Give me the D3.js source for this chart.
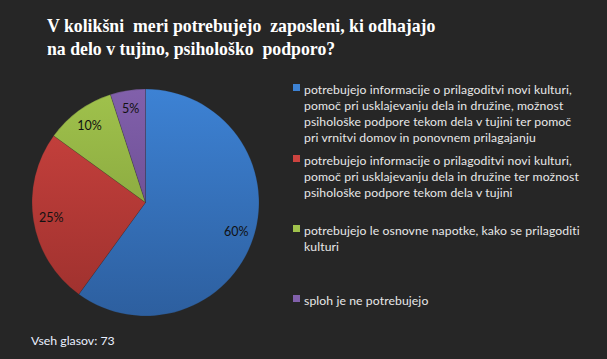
<!DOCTYPE html>
<html><head><meta charset="utf-8">
<script src="https://cdn.jsdelivr.net/npm/d3@7"></script>
<style>
html,body{margin:0;padding:0;background:#262626;}
svg{display:block;}
</style></head>
<body>
<script>
const categories = [
  ["potrebujejo informacije o prilagoditvi novi kulturi,", "pomoč pri usklajevanju dela in družine, možnost", "psihološke podpore tekom dela v tujini ter pomoč", "pri vrnitvi domov in ponovnem prilagajanju"],
  ["potrebujejo informacije o prilagoditvi novi kulturi,", "pomoč pri usklajevanju dela in družine ter možnost", "psihološke podpore tekom dela v tujini"],
  ["potrebujejo le osnovne napotke, kako se prilagoditi", "kulturi"],
  ["sploh je ne potrebujejo"]
];
const values = [60, 25, 10, 5];
const labels = ["60%", "25%", "10%", "5%"];
const colorsTop = ["#3d82d4", "#cc433f", "#a0c24c", "#8160ab"];
const colorsBot = ["#2d5f9f", "#9c302d", "#7b9737", "#5f4383"];
const titleLines = ["V kolikšni  meri potrebujejo  zaposleni, ki odhajajo", "na delo v tujino, psihološko  podporo?"];
const footer = "Vseh glasov: 73";

const W = 607, H = 359;
const svg = d3.select("body").append("svg").attr("width", W).attr("height", H);
svg.append("rect").attr("width", W).attr("height", H).attr("fill", "#262626");

// title
svg.append("g").attr("transform", "translate(47,0) scale(0.935,1)")
  .selectAll("text").data(titleLines).join("text")
  .attr("x", 0).attr("y", (d,i) => 32 + i*23)
  .attr("fill", "#ffffff")
  .attr("font-family", "'Liberation Serif', 'Times New Roman', serif")
  .attr("font-weight", "bold").attr("font-size", 19)
  .style("white-space", "pre")
  .text(d => d);

// pie
const cx = 145.5, cy = 202.5, r = 113.5;
const defs = svg.append("defs");
colorsTop.forEach((c, i) => {
  const g = defs.append("linearGradient").attr("id", "g"+i)
    .attr("gradientUnits", "userSpaceOnUse")
    .attr("x1", 0).attr("y1", -r).attr("x2", 0).attr("y2", r);
  g.append("stop").attr("offset", 0).attr("stop-color", c);
  g.append("stop").attr("offset", 1).attr("stop-color", colorsBot[i]);
});
const pie = d3.pie().sort(null).value(d => d);
const arcs = pie(values);
const arc = d3.arc().innerRadius(0).outerRadius(r);
const labelArc = d3.arc().innerRadius(r*0.84).outerRadius(r*0.84);
const gp = svg.append("g").attr("transform", `translate(${cx},${cy})`);
gp.selectAll("path").data(arcs).join("path")
  .attr("d", arc)
  .attr("fill", (d,i) => `url(#g${i})`)
  .attr("stroke", "rgba(40,40,40,0.35)").attr("stroke-width", 0.6);
gp.selectAll("text").data(arcs).join("text")
  .attr("transform", d => `translate(${labelArc.centroid(d)})`)
  .attr("text-anchor", "middle").attr("dy", "0.35em")
  .attr("font-family", "Lato, 'Open Sans', sans-serif")
  .attr("font-size", 12.5).attr("fill", "#111")
  .text((d,i) => labels[i]);

// legend
const legendTops = [89, 160, 230, 300];
const lg = svg.append("g");
categories.forEach((lines, i) => {
  const y0 = legendTops[i];
  lg.append("rect").attr("x", 293).attr("y", y0 - 5).attr("width", 7).attr("height", 7)
    .attr("fill", colorsTop[i]);
  lines.forEach((t, j) => {
    lg.append("text").attr("x", 304).attr("y", y0 + 4.5 + j*16)
      .attr("fill", "#e8e8e8")
      .attr("font-family", "Lato, 'Open Sans', sans-serif")
      .attr("font-size", 12.2).attr("letter-spacing", 0.1)
      .text(t);
  });
});

svg.append("text").attr("x", 31).attr("y", 345)
  .attr("fill", "#eaf0ff")
  .attr("font-family", "Lato, 'Open Sans', sans-serif")
  .attr("font-size", 12.3)
  .text(footer);
</script>
</body></html>
